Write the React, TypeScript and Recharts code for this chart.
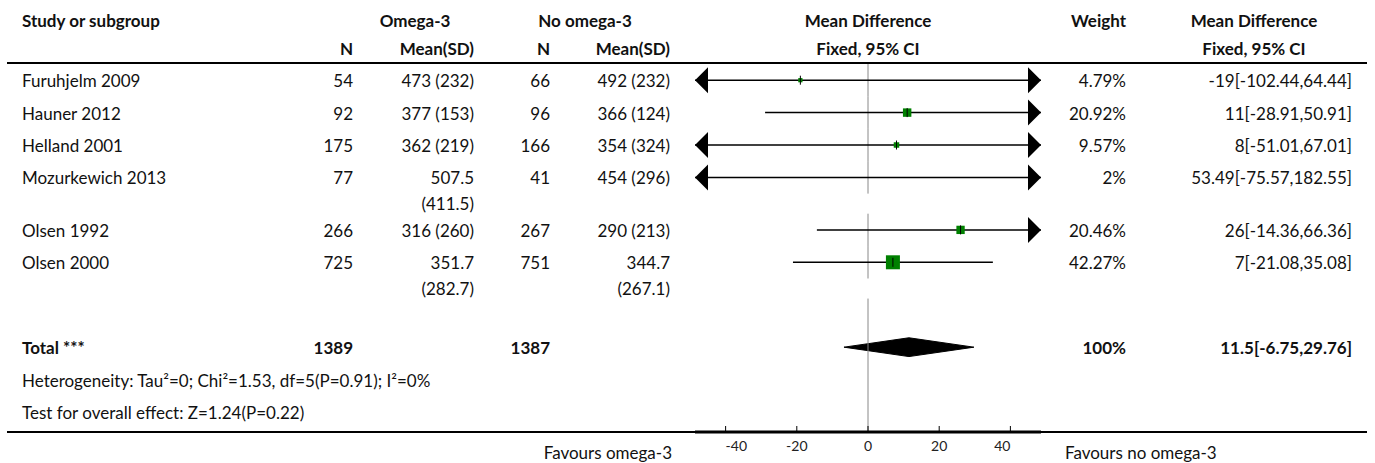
import React from "react";
import { ComposedChart, XAxis, YAxis, Line, Scatter, Area, ReferenceLine } from "recharts";

// study rows
const studies = ["Furuhjelm 2009", "Hauner 2012", "Helland 2001", "Mozurkewich 2013", "Olsen 1992", "Olsen 2000"];
const omegaN = [54, 92, 175, 77, 266, 725];
const omegaMeanSD = ["473 (232)", "377 (153)", "362 (219)", "507.5 (411.5)", "316 (260)", "351.7 (282.7)"];
const controlN = [66, 96, 166, 41, 267, 751];
const controlMeanSD = ["492 (232)", "366 (124)", "354 (324)", "454 (296)", "290 (213)", "344.7 (267.1)"];
const meanDiff = [-19, 11, 8, 53.49, 26, 7];
const ciLow = [-102.44, -28.91, -51.01, -75.57, -14.36, -21.08];
const ciHigh = [64.44, 50.91, 67.01, 182.55, 66.36, 35.08];
const weights = [4.79, 20.92, 9.57, 2, 20.46, 42.27];

// pooled result
const totalN = [1389, 1387];
const pooled = [11.5, -6.75, 29.76]; // estimate, lower, upper
const heterogeneity = "Heterogeneity: Tau²=0; Chi²=1.53, df=5(P=0.91); I²=0%";
const overallEffect = "Test for overall effect: Z=1.24(P=0.22)";

const xTicks = [-40, -20, 0, 20, 40];
const X_DOMAIN: [number, number] = [-48.6, 48.6];

const W = 1375;
const H = 463;
const PLOT_LEFT = 695;
const PLOT_RIGHT = 1041;
const PLOT_TOP = 64;
const PLOT_BOTTOM = 432;
const ROW = 32.4;
const EXTRA_LINE = 0.62; // extra row height for a wrapped cell
const Y_MAX = (PLOT_BOTTOM - PLOT_TOP) / ROW;

const FONT = "'Source Sans Pro', Lato, sans-serif";
const FS = 17;
const GREEN = "#008000";

const wrap = (s: string) => (s.length > 10 ? s.split(" ") : [s]);

// row layout in row units
const rowTop: number[] = [];
let cursor = 0;
studies.forEach((_, i) => {
  rowTop.push(cursor);
  const lines = Math.max(wrap(omegaMeanSD[i]).length, wrap(controlMeanSD[i]).length);
  cursor += 1 + (lines - 1) * EXTRA_LINE;
});
const blankTop = cursor;
const totalRow = blankTop + 1.5;
const hetRow = blankTop + 2.5;
const testRow = blankTop + 3.5;
const rowMid = (i: number) => rowTop[i] + 0.5;
const toPx = (u: number) => PLOT_TOP + u * ROW;

const clampX = (v: number) => Math.max(X_DOMAIN[0], Math.min(X_DOMAIN[1], v));

const ciLines = studies.map((_, i) => [
  { x: clampX(ciLow[i]), y: rowMid(i) },
  { x: clampX(ciHigh[i]), y: rowMid(i) },
]);

const squares = studies
  .map((s, i) => ({ x: meanDiff[i], y: rowMid(i), w: weights[i], name: s }))
  .filter((d) => d.x >= X_DOMAIN[0] && d.x <= X_DOMAIN[1]);

const arrows = studies.flatMap((_, i) => {
  const out = [];
  if (ciLow[i] < X_DOMAIN[0]) out.push({ x: X_DOMAIN[0], y: rowMid(i), dir: -1 });
  if (ciHigh[i] > X_DOMAIN[1]) out.push({ x: X_DOMAIN[1], y: rowMid(i), dir: 1 });
  return out;
});

const DIAMOND_H = 0.29;
const diamond = [
  { x: pooled[1], band: [totalRow, totalRow] },
  { x: pooled[0], band: [totalRow - DIAMOND_H, totalRow + DIAMOND_H] },
  { x: pooled[2], band: [totalRow, totalRow] },
];

const SquareShape = (props: any) => {
  const { cx, cy, payload } = props;
  const side = 3 + payload.w * 0.26;
  return (
    <g>
      <rect x={cx - side / 2} y={cy - side / 2} width={side} height={side} fill={GREEN} />
      <line x1={cx} x2={cx} y1={cy - 4.5} y2={cy + 4.5} stroke="#000" strokeWidth={1} />
    </g>
  );
};

const ArrowShape = (props: any) => {
  const { cx, cy, payload } = props;
  const d = payload.dir;
  const pts = `${cx},${cy} ${cx - d * 13},${cy - 13} ${cx - d * 13},${cy + 13}`;
  return <polygon points={pts} fill="#000" />;
};

// outer tick labels sit inside the axis ends
const AxisTick = (props: any) => {
  const { x, y, payload, index } = props;
  const anchor = index === 0 ? "start" : index === xTicks.length - 1 ? "end" : "middle";
  return (
    <text x={x} y={y} dy="0.71em" textAnchor={anchor} fontSize={14} fill="#222" fontFamily={FONT}>
      {payload.value}
    </text>
  );
};

function Txt({
  x,
  y,
  align = "left",
  bold = false,
  size = FS,
  children,
}: {
  x: number;
  y: number;
  align?: "left" | "right" | "center";
  bold?: boolean;
  size?: number;
  children: React.ReactNode;
}) {
  const w = 500;
  const left = align === "left" ? x : align === "right" ? x - w : x - w / 2;
  return (
    <div
      style={{
        position: "absolute",
        left,
        top: y - 12,
        width: w,
        height: 26,
        lineHeight: "26px",
        textAlign: align,
        fontWeight: bold ? 700 : 400,
        fontSize: size,
        whiteSpace: "nowrap",
        color: "#111",
      }}
    >
      {children}
    </div>
  );
}

const COL = { study: 22, n1: 353, msd1: 474, n2: 550, msd2: 670, plot: 868, weight: 1126, md: 1352 };

export default function App() {
  return (
    <div style={{ position: "absolute", left: 0, top: 0, width: W, height: H, fontFamily: FONT, background: "#fff" }}>
      {/* header */}
      <Txt x={COL.study} y={20} bold>Study or subgroup</Txt>
      <Txt x={415} y={20} align="center" bold>Omega-3</Txt>
      <Txt x={585} y={20} align="center" bold>No omega-3</Txt>
      <Txt x={COL.plot} y={20} align="center" bold>Mean Difference</Txt>
      <Txt x={COL.weight} y={20} align="right" bold>Weight</Txt>
      <Txt x={1254} y={20} align="center" bold>Mean Difference</Txt>
      <Txt x={COL.n1} y={48} align="right" bold>N</Txt>
      <Txt x={COL.msd1} y={48} align="right" bold>Mean(SD)</Txt>
      <Txt x={COL.n2} y={48} align="right" bold>N</Txt>
      <Txt x={COL.msd2} y={48} align="right" bold>Mean(SD)</Txt>
      <Txt x={COL.plot} y={48} align="center" bold>Fixed, 95% CI</Txt>
      <Txt x={1254} y={48} align="center" bold>Fixed, 95% CI</Txt>
      <div style={{ position: "absolute", left: 7, top: 62, width: 1360, height: 2, background: "#000" }} />

      {/* study rows */}
      {studies.map((s, i) => {
        const y = toPx(rowMid(i));
        return (
          <React.Fragment key={s}>
            <Txt x={COL.study} y={y}>{s}</Txt>
            <Txt x={COL.n1} y={y} align="right">{omegaN[i]}</Txt>
            {wrap(omegaMeanSD[i]).map((t, k) => (
              <Txt key={k} x={COL.msd1} y={y + k * 26} align="right">{t}</Txt>
            ))}
            <Txt x={COL.n2} y={y} align="right">{controlN[i]}</Txt>
            {wrap(controlMeanSD[i]).map((t, k) => (
              <Txt key={k} x={COL.msd2} y={y + k * 26} align="right">{t}</Txt>
            ))}
            <Txt x={COL.weight} y={y} align="right">{weights[i]}%</Txt>
            <Txt x={COL.md} y={y} align="right">
              {meanDiff[i]}[{ciLow[i]},{ciHigh[i]}]
            </Txt>
          </React.Fragment>
        );
      })}

      {/* total */}
      <Txt x={COL.study} y={toPx(totalRow)} bold>Total ***</Txt>
      <Txt x={COL.n1} y={toPx(totalRow)} align="right" bold>{totalN[0]}</Txt>
      <Txt x={COL.n2} y={toPx(totalRow)} align="right" bold>{totalN[1]}</Txt>
      <Txt x={COL.weight} y={toPx(totalRow)} align="right" bold>100%</Txt>
      <Txt x={COL.md} y={toPx(totalRow)} align="right" bold>
        {pooled[0]}[{pooled[1]},{pooled[2]}]
      </Txt>
      <Txt x={COL.study} y={toPx(hetRow)}>{heterogeneity}</Txt>
      <Txt x={COL.study} y={toPx(testRow)}>{overallEffect}</Txt>

      <div style={{ position: "absolute", left: 7, top: 431, width: 1360, height: 2, background: "#000" }} />
      <Txt x={672} y={452} align="right">Favours omega-3</Txt>
      <Txt x={1065} y={452}>Favours no omega-3</Txt>

      <ComposedChart
        width={W}
        height={H}
        margin={{ top: PLOT_TOP, right: W - PLOT_RIGHT, bottom: 0, left: PLOT_LEFT }}
        style={{ position: "absolute", left: 0, top: 0 }}
      >
        <XAxis
          type="number"
          dataKey="x"
          domain={X_DOMAIN}
          allowDataOverflow
          ticks={xTicks}
          interval={0}
          height={H - PLOT_BOTTOM}
          axisLine={{ stroke: "#000", strokeWidth: 3 }}
          tickLine={{ stroke: "#000" }}
          tickSize={-6}
          tickMargin={15}
          tick={<AxisTick />}
        />
        <YAxis type="number" dataKey="y" domain={[0, Y_MAX]} reversed hide allowDataOverflow />

        {studies.map((s, i) => (
          <ReferenceLine
            key={`z-${s}`}
            segment={[
              { x: 0, y: rowTop[i] },
              { x: 0, y: rowTop[i] + 1 },
            ]}
            stroke="#888"
            strokeWidth={1}
            ifOverflow="visible"
          />
        ))}
        <ReferenceLine
          segment={[
            { x: 0, y: blankTop },
            { x: 0, y: Y_MAX },
          ]}
          stroke="#888"
          strokeWidth={1}
          ifOverflow="visible"
        />

        {ciLines.map((d, i) => (
          <Line
            key={`ci-${i}`}
            data={d}
            dataKey="y"
            stroke="#000"
            strokeWidth={1.5}
            dot={false}
            activeDot={false}
            isAnimationActive={false}
          />
        ))}
        <Area
          data={diamond}
          dataKey="band"
          type="linear"
          fill="#000"
          fillOpacity={1}
          stroke="#000"
          isAnimationActive={false}
        />
        <Scatter data={squares} shape={SquareShape} isAnimationActive={false} />
        <Scatter data={arrows} shape={ArrowShape} isAnimationActive={false} />
      </ComposedChart>
    </div>
  );
}
